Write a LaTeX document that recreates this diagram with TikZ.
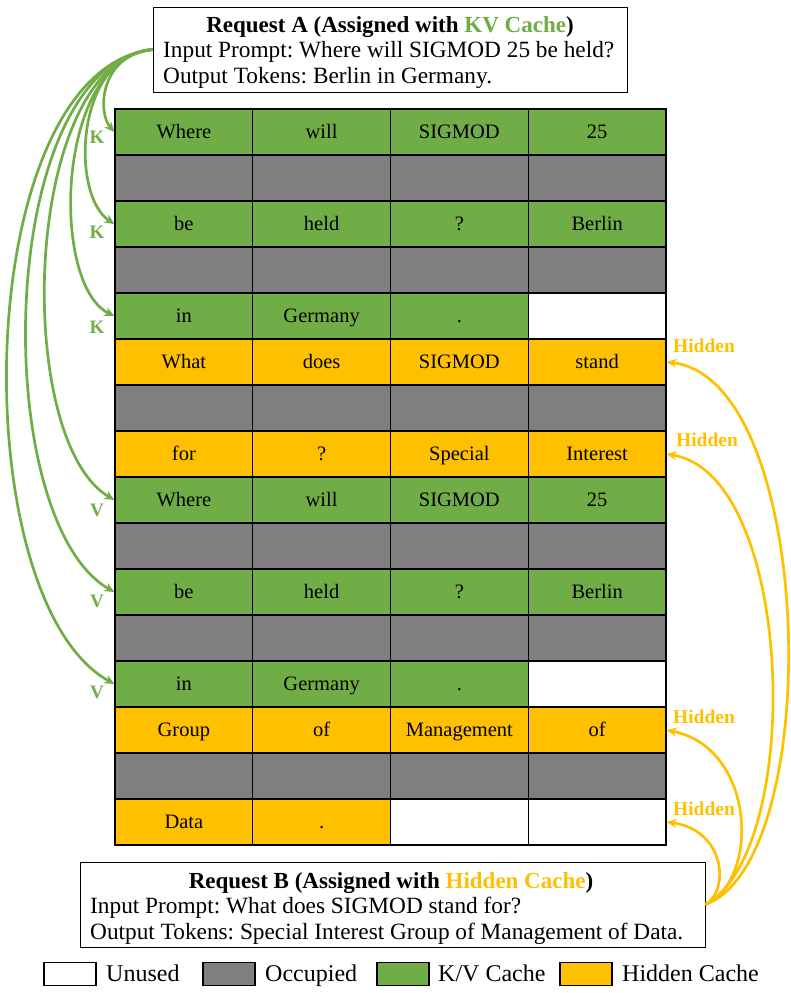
\documentclass[tikz,border=0pt]{standalone}
\usepackage{fontspec}
\setmainfont{Liberation Serif}
\usetikzlibrary{arrows.meta}
\definecolor{kvgreen}{HTML}{70AD47}
\definecolor{occgray}{HTML}{7F7F7F}
\definecolor{hidyel}{HTML}{FFC000}
\frenchspacing
\begin{document}
\begin{tikzpicture}[x=1pt,y=-1pt,
  cell/.style={inner sep=0pt, text height=13.6pt, text depth=0pt, draw=black, line width=1.3pt, minimum width=137.75pt, minimum height=46pt, font=\fontsize{20.5}{24}\selectfont},
  cg/.style={cell, fill=kvgreen}, co/.style={cell, fill=occgray},
  cy/.style={cell, fill=hidyel}, cu/.style={cell, fill=white},
  reqbox/.style={draw=black, line width=0.9pt, fill=white, inner sep=0pt},
  boxtxt/.style={inner sep=0pt, text height=15.4pt, text depth=0pt, font=\fontsize{23.3}{27}\selectfont},
  kvarrow/.style={draw=kvgreen, line width=2.7pt, -{Stealth[length=10pt,width=9pt]}},
  hidarrow/.style={draw=hidyel, line width=2.7pt, -{Stealth[length=10pt,width=9pt]}},
  klab/.style={inner sep=0pt, text height=12.6pt, text depth=0pt, text=kvgreen, font=\bfseries\fontsize{19}{22}\selectfont},
  hlab/.style={inner sep=0pt, text height=12.9pt, text depth=0pt, text=hidyel, font=\bfseries\fontsize{19.5}{23}\selectfont},
  legbox/.style={draw=black, line width=1.4pt, minimum width=52pt, minimum height=23pt, inner sep=0pt},
  legtxt/.style={inner sep=0pt, text height=15.9pt, text depth=0pt, anchor=west, font=\fontsize{24}{28}\selectfont}
]
\useasboundingbox (0,0) rectangle (790,993);

% table
\foreach \r/\cl in {
  1/{cg/Where,cg/will,cg/SIGMOD,cg/25},
  2/{co/{},co/{},co/{},co/{}},
  3/{cg/be,cg/held,cg/?,cg/Berlin},
  4/{co/{},co/{},co/{},co/{}},
  5/{cg/in,cg/Germany,cg/.,cu/{}},
  6/{cy/What,cy/does,cy/SIGMOD,cy/stand},
  7/{co/{},co/{},co/{},co/{}},
  8/{cy/for,cy/?,cy/Special,cy/Interest},
  9/{cg/Where,cg/will,cg/SIGMOD,cg/25},
  10/{co/{},co/{},co/{},co/{}},
  11/{cg/be,cg/held,cg/?,cg/Berlin},
  12/{co/{},co/{},co/{},co/{}},
  13/{cg/in,cg/Germany,cg/.,cu/{}},
  14/{cy/Group,cy/of,cy/Management,cy/of},
  15/{co/{},co/{},co/{},co/{}},
  16/{cy/Data,cy/.,cu/{},cu/{}}}
{
  \foreach \k/\t [count=\c] in \cl {
    \node[\k] (c\r-\c) at ({115+137.75*(\c-0.5)},{109+46*(\r-0.5)}) {\t};
  }
}

% request A
\node[reqbox, minimum width=474pt, minimum height=85pt] (reqA) at (390,49.5) {};
\node[boxtxt, font=\bfseries\fontsize{23}{27}\selectfont] (tA1) at (390,25) {Request A (Assigned with \textcolor{kvgreen}{KV Cache})};
\node[boxtxt, anchor=west] (tA2) at (163,50) {Input Prompt: Where will SIGMOD 25 be held?};
\node[boxtxt, anchor=west] (tA3) at (163,76) {Output Tokens: Berlin in Germany.};

% request B
\node[reqbox, minimum width=625pt, minimum height=85pt] (reqB) at (392.5,904.5) {};
\node[boxtxt, font=\bfseries\fontsize{23}{27}\selectfont] (tB1) at (391,881) {Request B (Assigned with \textcolor{hidyel}{Hidden Cache})};
\node[boxtxt, anchor=west] (tB2) at (90,906) {Input Prompt: What does SIGMOD stand for?};
\node[boxtxt, anchor=west] (tB3) at (90,932) {Output Tokens: Special Interest Group of Management of Data.};

% K / V arrows
\draw[kvarrow] (reqA.west) .. controls (100,55) and (97,112) .. (c1-1.west);
\draw[kvarrow] (reqA.west) .. controls (75,55) and (70,195) .. (c3-1.west);
\draw[kvarrow] (reqA.west) .. controls (55,58) and (50,285) .. (c5-1.west);
\draw[kvarrow] (reqA.west) .. controls (22,62) and (12,440) .. (c9-1.west);
\draw[kvarrow] (reqA.west) .. controls (-5,66) and (-12,520) .. (c11-1.west);
\draw[kvarrow] (reqA.west) .. controls (-30,70) and (-38,600) .. (c13-1.west);

\node[klab] (k1) at (97,137) {K};
\node[klab] (k2) at (97,232) {K};
\node[klab] (k3) at (97,327) {K};
\node[klab] (v1) at (97,510) {V};
\node[klab] (v2) at (97,601) {V};
\node[klab] (v3) at (97,692) {V};

% hidden arrows
\draw[hidarrow] (reqB.east) .. controls (826,860) and (816,380) .. (c6-4.east);
\draw[hidarrow] (reqB.east) .. controls (805,850) and (795,475) .. (c8-4.east);
\draw[hidarrow] (reqB.east) .. controls (760,880) and (756,748) .. (c14-4.east);
\draw[hidarrow] (reqB.east) .. controls (730,890) and (725,830) .. (c16-4.east);

\node[hlab] (h1) at (704,346) {Hidden};
\node[hlab] (h2) at (707,440) {Hidden};
\node[hlab] (h3) at (704,717) {Hidden};
\node[hlab] (h4) at (704,809) {Hidden};

% legend
\node[legbox, fill=white] (lu) at (70,974) {};
\node[legtxt] (lut) at (106,974) {Unused};
\node[legbox, fill=occgray] (lo) at (229,974) {};
\node[legtxt] (lot) at (265,974) {Occupied};
\node[legbox, fill=kvgreen] (lg) at (403,974) {};
\node[legtxt] (lgt) at (438,974) {K/V Cache};
\node[legbox, fill=hidyel] (ly) at (586,974) {};
\node[legtxt] (lyt) at (622,974) {Hidden Cache};
\end{tikzpicture}
\end{document}
